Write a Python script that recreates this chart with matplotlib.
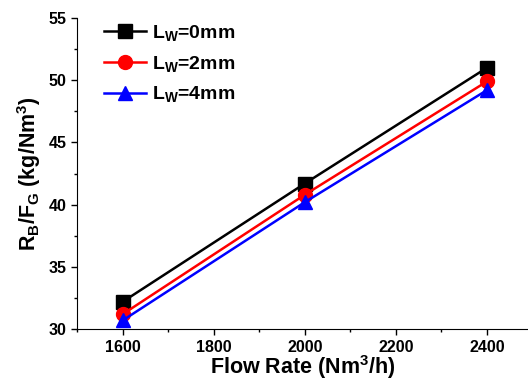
import matplotlib
matplotlib.use('Agg')
import matplotlib.pyplot as plt
from matplotlib.ticker import MultipleLocator

# Data
flow_rate = [1600, 2000, 2400]
lw_0mm = [32.2, 41.7, 51.0]
lw_2mm = [31.2, 40.8, 49.9]
lw_4mm = [30.7, 40.2, 49.2]

plt.rcParams['font.family'] = 'Liberation Sans'
plt.rcParams['font.weight'] = 'bold'
plt.rcParams['mathtext.fontset'] = 'custom'
plt.rcParams['mathtext.rm'] = 'Liberation Sans:bold'
plt.rcParams['mathtext.default'] = 'regular'

fig = plt.figure(figsize=(5.28, 3.81), dpi=100)
ax = fig.add_axes([0.146, 0.136, 0.854, 0.817])

ax.plot(flow_rate, lw_0mm, color='black', marker='s', markersize=10, linewidth=1.8, label='L$_W$=0mm')
ax.plot(flow_rate, lw_2mm, color='red', marker='o', markersize=10, linewidth=1.8, label='L$_W$=2mm')
ax.plot(flow_rate, lw_4mm, color='blue', marker='^', markersize=10, linewidth=1.8, label='L$_W$=4mm')

ax.set_xlim(1500, 2490)
ax.set_ylim(30, 55)
ax.set_xticks([1600, 1800, 2000, 2200, 2400])
ax.set_yticks([30, 35, 40, 45, 50, 55])
ax.xaxis.set_minor_locator(MultipleLocator(100))
ax.yaxis.set_minor_locator(MultipleLocator(2.5))

ax.spines['top'].set_visible(False)
ax.spines['right'].set_visible(False)
ax.tick_params(which='major', direction='out', length=4, width=1, labelsize=11.5)
ax.tick_params(which='minor', direction='out', length=2, width=1)

ax.set_xlabel('Flow Rate (Nm$^3$/h)', fontsize=15.5, fontweight='bold', labelpad=-1)
ax.set_ylabel('R$_B$/F$_G$ (kg/Nm$^3$)', fontsize=15.5, fontweight='bold', labelpad=4)

ax.legend(
    loc='upper left',
    bbox_to_anchor=(0.02, 1.04),
    frameon=False,
    fontsize=14,
    handlelength=2.2,
    labelspacing=0.55,
    handletextpad=0.3,
)

fig.savefig('out.png', dpi=100)
